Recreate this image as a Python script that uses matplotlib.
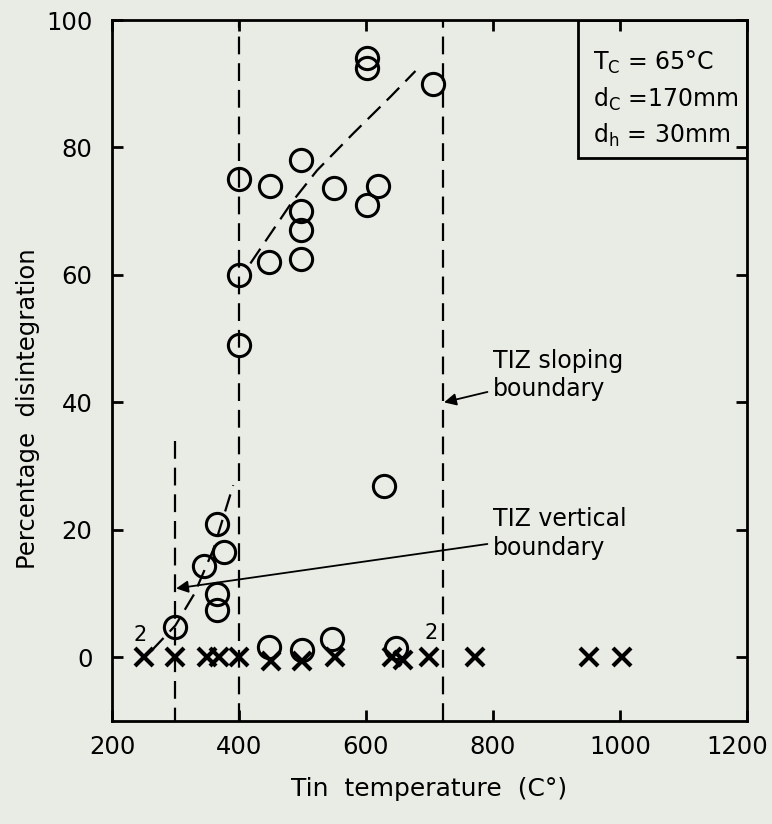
import matplotlib
matplotlib.use("Agg")
import matplotlib.pyplot as plt
import matplotlib.transforms as mtrans
from matplotlib.patches import Rectangle

plt.rcParams["font.family"] = "DejaVu Sans"
plt.rcParams["mathtext.default"] = "regular"

# circles: specimens with measurable disintegration
circle_x = [400, 400, 400, 449, 448, 498, 498, 498, 498, 549, 602, 602, 619, 602, 706,
            299, 365, 365, 345, 376, 366, 629, 448, 499, 547, 647]
circle_y = [75, 60, 49, 74, 62, 78, 70, 67, 62.5, 73.7, 94.1, 92.4, 74, 71, 90,
            4.8, 7.4, 10, 14.3, 16.5, 20.9, 26.8, 1.6, 1.2, 2.9, 1.4]

# crosses: no disintegration
cross_x = [250, 300, 350, 368, 400, 450, 500, 552, 641, 659, 700, 772, 951, 1004]
cross_y = [0, 0, 0, 0, 0, -0.6, -0.6, 0, 0, -0.4, 0, 0, 0, 0]

# hand-drawn trend curves
upper_x = [418, 484, 523, 580, 639, 678]
upper_y = [61.8, 71.5, 76.4, 82.2, 88, 92]
lower_x = [262, 300, 330, 360, 391]
lower_y = [1, 5, 10, 17, 27]

bg = "#e8ece5"
fig = plt.figure(figsize=(7.72, 8.24), dpi=100, facecolor=bg)
ax = fig.add_axes([0.145, 0.125, 0.8225, 0.8507], facecolor=bg)

dash = (8, 4)
ax.plot([300, 300], [34, -10], color="black", lw=1.6, dashes=dash)
ax.axvline(400, color="black", lw=1.6, dashes=dash)
ax.axvline(722, color="black", lw=1.6, dashes=dash)
ax.plot(upper_x, upper_y, color="black", lw=1.6, dashes=dash)
ax.plot(lower_x, lower_y, color="black", lw=1.6, dashes=dash)

ax.plot(circle_x, circle_y, "o", ms=16, mfc="none", mec="black", mew=2.2)
ax.plot(cross_x, cross_y, "x", ms=13, mec="black", mew=3)

ax.text(244, 3.5, "2", fontsize=15, ha="center", va="center")
ax.text(702, 3.8, "2", fontsize=15, ha="center", va="center")

ax.annotate("TIZ sloping\nboundary", xy=(723, 40), xytext=(800, 44.3),
            fontsize=17, va="center", ha="left", linespacing=1.25,
            arrowprops=dict(arrowstyle="-|>", color="black", lw=1.3,
                            mutation_scale=18, shrinkA=2, shrinkB=0))
ax.annotate("TIZ vertical\nboundary", xy=(301, 10.8), xytext=(800, 19.4),
            fontsize=17, va="center", ha="left", linespacing=1.25,
            arrowprops=dict(arrowstyle="-|>", color="black", lw=1.3,
                            mutation_scale=18, shrinkA=2, shrinkB=0))

ax.add_patch(Rectangle((934, 78.3), 266, 21.7, fill=False, ec="black", lw=2, zorder=5))
ax.text(958, 93.4, "T$_C$ = 65°C", fontsize=17, va="center")
ax.text(958, 87.6, "d$_C$ =170mm", fontsize=17, va="center")
ax.text(958, 81.9, "d$_h$ = 30mm", fontsize=17, va="center")

ax.set_xlim(200, 1200)
ax.set_ylim(-10, 100)
ax.set_xticks([200, 400, 600, 800, 1000, 1200])
ax.set_yticks([0, 20, 40, 60, 80, 100])
ax.tick_params(direction="in", top=True, right=True, length=8, width=2,
               labelsize=17.5, colors="black")
ax.tick_params(axis="x", pad=10)
ax.tick_params(axis="y", pad=14)
for s in ax.spines.values():
    s.set_linewidth(2)

# nudge the last x label inside the figure, as in the original
last = ax.get_xticklabels()[-1]
last.set_transform(last.get_transform()
                   + mtrans.ScaledTranslation(-7 / 72, 0, fig.dpi_scale_trans))

ax.set_xlabel("Tin  temperature  (C°)", fontsize=18)
ax.set_ylabel("Percentage  disintegration", fontsize=17.5)
ax.xaxis.set_label_coords(0.5, -0.08)
ax.yaxis.set_label_coords(-0.113, 0.445)

fig.savefig("out.png", dpi=100, facecolor=bg)
